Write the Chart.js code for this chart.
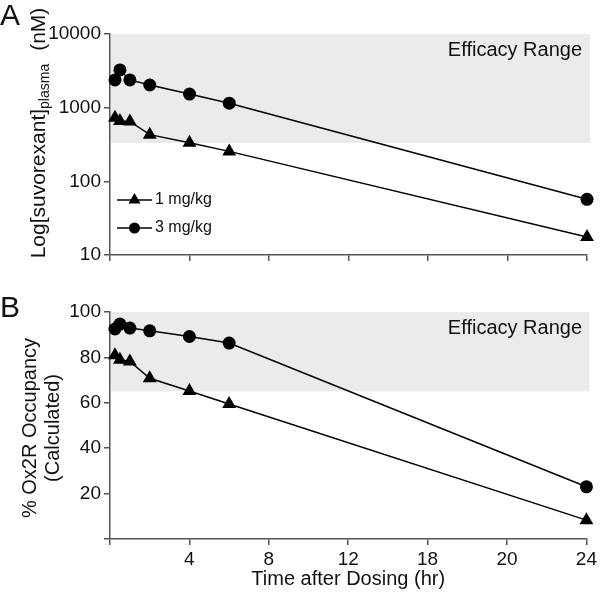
<!DOCTYPE html>
<html>
<head>
<meta charset="utf-8">
<script src="https://cdn.jsdelivr.net/npm/chart.js@4"></script>
<style>
  html, body { margin: 0; padding: 0; background: #fff; }
  #wrap { position: relative; width: 600px; height: 592px; }
  .panel { position: absolute; left: 0; width: 600px; }
  #panelA { top: 0; height: 280px; }
  #panelB { top: 280px; height: 312px; }
</style>
</head>
<body>
<div id="wrap">
  <div class="panel" id="panelA"><canvas id="chartA"></canvas></div>
  <div class="panel" id="panelB"><canvas id="chartB"></canvas></div>
</div>
<script>
// time points (hr)
const timeHr = [0.25, 0.5, 1, 2, 4, 6, 24];
// plasma concentration (nM)
const plasma1mg = [730, 660, 650, 430, 335, 255, 17.5];
const plasma3mg = [2380, 3250, 2380, 2030, 1530, 1150, 57];
// Ox2R occupancy (%)
const occ1mg = [81, 79, 78.2, 70.8, 65.2, 59.5, 8.3];
const occ3mg = [92.5, 94.7, 92.9, 91.7, 89.2, 86.3, 23];
// efficacy ranges [low, high]
const efficacyPlasma = [332, 10000];
const efficacyOcc = [65, 100];
// axis ticks
const xTickValues = [0, 4, 8, 12, 16, 20, 24];
const xTickLabels = ['', '4', '8', '12', '18', '20', '24'];
const yTicksA = [10, 100, 1000, 10000];
const seriesLabels = ['1 mg/kg', '3 mg/kg'];

const FONT = '"Liberation Sans", Arial, sans-serif';
const AXIS = '#555';

function pts(ys) {
    return timeHr.map((t, i) => ({ x: t, y: ys[i] }));
}

function makeDatasets(y1, y3) {
    const base = { borderColor: '#000', backgroundColor: '#000', pointBorderColor: '#000',
        pointBackgroundColor: '#000', borderWidth: 1.5, tension: 0, clip: false };
    return [
        Object.assign({}, base, { label: seriesLabels[0], data: pts(y1), pointStyle: 'triangle', pointRadius: 8, pointBorderWidth: 0 }),
        Object.assign({}, base, { label: seriesLabels[1], data: pts(y3), pointStyle: 'circle', pointRadius: 6.5, pointBorderWidth: 0 })
    ];
}

function drawMarker(ctx, style, x, y, r) {
    ctx.beginPath();
    if (style === 'triangle') {
        ctx.moveTo(x, y - r);
        ctx.lineTo(x + r * Math.sin(Math.PI / 3), y + r / 2);
        ctx.lineTo(x - r * Math.sin(Math.PI / 3), y + r / 2);
        ctx.closePath();
    } else {
        ctx.arc(x, y, r, 0, Math.PI * 2);
    }
    ctx.fill();
}

// grey efficacy band + label + panel letter
function bandPlugin(range, letter, letterY) {
    return {
        id: 'band' + letter,
        beforeDraw(chart) {
            const { ctx, scales: { x, y } } = chart;
            const top = y.getPixelForValue(range[1]);
            const bottom = y.getPixelForValue(range[0]);
            ctx.save();
            ctx.fillStyle = '#ebebeb';
            ctx.fillRect(x.left + 1, top, x.right + 3 - x.left - 1, bottom - top);
            ctx.fillStyle = '#111';
            ctx.font = '20px ' + FONT;
            ctx.textAlign = 'right';
            ctx.textBaseline = 'middle';
            ctx.fillText('Efficacy Range', 582, top + 16);
            ctx.font = '30px ' + FONT;
            ctx.textAlign = 'left';
            ctx.textBaseline = 'alphabetic';
            ctx.fillText(letter, 0, letterY);
            ctx.restore();
        }
    };
}

const yTitleA = {
    id: 'yTitleA',
    afterDraw(chart) {
        const ctx = chart.ctx;
        ctx.save();
        ctx.fillStyle = '#111';
        const main = 'Log[suvorexant]';
        const sub = 'plasma';
        const tail = '(nM)';
        ctx.font = '21px ' + FONT;
        const wMain = ctx.measureText(main).width;
        const wTail = ctx.measureText(tail).width;
        ctx.font = '14px ' + FONT;
        const wSub = ctx.measureText(sub).width;
        const gap = 13;
        const total = wMain + wSub + gap + wTail;
        ctx.translate(45, 133);
        ctx.rotate(-Math.PI / 2);
        let px = -total / 2;
        ctx.textBaseline = 'alphabetic';
        ctx.font = '21px ' + FONT;
        ctx.fillText(main, px, 0);
        px += wMain;
        ctx.font = '14px ' + FONT;
        ctx.fillText(sub, px, 4);
        px += wSub + gap;
        ctx.font = '21px ' + FONT;
        ctx.fillText(tail, px, 0);
        ctx.restore();
    }
};

const legendA = {
    id: 'legendA',
    afterDatasetsDraw(chart) {
        const ctx = chart.ctx;
        const rows = [{ y: 200, r: 7 }, { y: 228, r: 5.5 }];
        ctx.save();
        chart.data.datasets.forEach((ds, i) => {
            const y = rows[i].y;
            ctx.strokeStyle = '#000';
            ctx.lineWidth = 1.5;
            ctx.beginPath();
            ctx.moveTo(117, y);
            ctx.lineTo(152, y);
            ctx.stroke();
            ctx.fillStyle = '#000';
            drawMarker(ctx, ds.pointStyle, 134.5, y, rows[i].r);
            ctx.fillStyle = '#111';
            ctx.font = '16px ' + FONT;
            ctx.textAlign = 'left';
            ctx.textBaseline = 'middle';
            ctx.fillText(ds.label, 155, y);
        });
        ctx.restore();
    }
};

const yTitleB = {
    id: 'yTitleB',
    afterDraw(chart) {
        const ctx = chart.ctx;
        ctx.save();
        ctx.fillStyle = '#111';
        ctx.font = '20px ' + FONT;
        ctx.textAlign = 'center';
        ctx.textBaseline = 'middle';
        ctx.translate(0, 148);
        ctx.rotate(-Math.PI / 2);
        ctx.fillText('% Ox2R Occupancy', 0, 30);
        ctx.fillText('(Calculated)', 0, 53);
        ctx.restore();
    }
};

function xScale(showLabels, height, withTitle) {
    return {
        type: 'linear',
        min: 0,
        max: 24,
        afterBuildTicks: s => { s.ticks = xTickValues.map(v => ({ value: v })); },
        afterFit: s => { s.height = height; },
        border: { color: AXIS, width: 1.5 },
        grid: { drawOnChartArea: false, drawTicks: true, tickLength: 6, color: AXIS, lineWidth: 1.5 },
        ticks: {
            display: showLabels,
            maxRotation: 0,
            autoSkip: false,
            color: '#111',
            font: { family: FONT, size: 19 },
            padding: 3,
            callback: v => xTickLabels[xTickValues.indexOf(v)]
        },
        title: {
            display: withTitle,
            text: 'Time after Dosing (hr)',
            color: '#111',
            font: { family: FONT, size: 20 },
            padding: { top: 0, bottom: 1 }
        }
    };
}

function yGrid() {
    return { drawOnChartArea: false, drawTicks: true, tickLength: 6, color: AXIS, lineWidth: 1.5 };
}

new Chart(document.getElementById('chartA'), {
    type: 'line',
    data: { datasets: makeDatasets(plasma1mg, plasma3mg) },
    options: {
        responsive: true,
        maintainAspectRatio: false,
        animation: false,
        layout: { padding: { top: 34, right: 13, left: 0, bottom: 0 } },
        plugins: { legend: { display: false }, tooltip: { enabled: false } },
        scales: {
            x: xScale(false, 25, false),
            y: {
                type: 'logarithmic',
                min: 10,
                max: 10000,
                afterBuildTicks: s => { s.ticks = yTicksA.map(v => ({ value: v })); },
                afterFit: s => { s.width = 110; },
                border: { color: AXIS, width: 1.5 },
                grid: yGrid(),
                ticks: {
                    color: '#111',
                    font: { family: FONT, size: 19 },
                    padding: 3,
                    callback: v => String(v)
                }
            }
        }
    },
    plugins: [bandPlugin(efficacyPlasma, 'A', 25), yTitleA, legendA]
});

new Chart(document.getElementById('chartB'), {
    type: 'line',
    data: { datasets: makeDatasets(occ1mg, occ3mg) },
    options: {
        responsive: true,
        maintainAspectRatio: false,
        animation: false,
        layout: { padding: { top: 32, right: 13, left: 0, bottom: 0 } },
        plugins: { legend: { display: false }, tooltip: { enabled: false } },
        scales: {
            x: xScale(true, 53, true),
            y: {
                type: 'linear',
                min: 0,
                max: 100,
                afterFit: s => { s.width = 110; },
                border: { color: AXIS, width: 1.5 },
                grid: yGrid(),
                ticks: {
                    stepSize: 20,
                    color: '#111',
                    font: { family: FONT, size: 19 },
                    padding: 3,
                    callback: v => v === 0 ? '' : String(v)
                }
            }
        }
    },
    plugins: [bandPlugin(efficacyOcc, 'B', 37), yTitleB]
});
</script>
</body>
</html>
